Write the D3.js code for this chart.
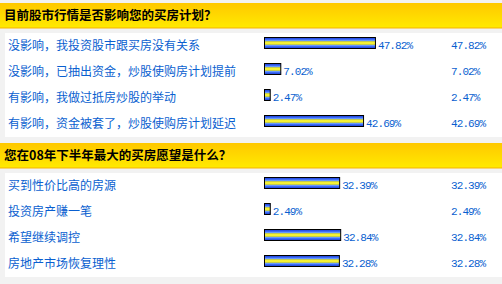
<!DOCTYPE html>
<html>
<head>
<meta charset="utf-8">
<script src="https://cdn.jsdelivr.net/npm/d3@7"></script>
<style>
  body { margin: 0; background: #f2f2f2; }
  svg { display: block; }
</style>
</head>
<body>
<div id="chart"></div>
<script>
// survey data
var titles = ["目前股市行情是否影响您的买房计划？", "您在08年下半年最大的买房愿望是什么？"];
var q1Labels = ["没影响，我投资股市跟买房没有关系", "没影响，已抽出资金，炒股使购房计划提前", "有影响，我做过抵房炒股的举动", "有影响，资金被套了，炒股使购房计划延迟"];
var q1Values = [47.82, 7.02, 2.47, 42.69];
var q2Labels = ["买到性价比高的房源", "投资房产赚一笔", "希望继续调控", "房地产市场恢复理性"];
var q2Values = [32.39, 2.49, 32.84, 32.28];

var width = 502, height = 284;

var svg = d3.select("#chart").append("svg")
  .attr("width", width)
  .attr("height", height);

var defs = svg.append("defs");

// header gradient
var hg = defs.append("linearGradient").attr("id", "hdr")
  .attr("x1", 0).attr("y1", 0).attr("x2", 0).attr("y2", 1);
hg.append("stop").attr("offset", "0%").attr("stop-color", "#ffc800");
hg.append("stop").attr("offset", "100%").attr("stop-color", "#ffea00");

// striped bar gradient
var bg = defs.append("linearGradient").attr("id", "bar")
  .attr("x1", 0).attr("y1", 0).attr("x2", 0).attr("y2", 1);
[["0%", "#1f3fd8"], ["15%", "#2f5cf0"], ["28%", "#6a9cff"], ["40%", "#e8e000"],
 ["50%", "#ffff60"], ["60%", "#e8e000"], ["72%", "#6a9cff"], ["85%", "#2f5cf0"], ["100%", "#1f3fd8"]]
  .forEach(function(s){
    bg.append("stop").attr("offset", s[0]).attr("stop-color", s[1]);
  });

var xScale = d3.scaleLinear().domain([0, 100]).range([0, 232]);

function drawSection(top, title, labels, values) {
  var g = svg.append("g").attr("transform", "translate(0," + top + ")");

  // header band
  g.append("rect")
    .attr("x", 0).attr("y", 0)
    .attr("width", width).attr("height", 25)
    .attr("fill", "url(#hdr)");
  g.append("rect")
    .attr("x", 0).attr("y", 24.5)
    .attr("width", width).attr("height", 1)
    .attr("fill", "#f5b400");
  g.append("text")
    .attr("x", 4).attr("y", 17)
    .attr("font-family", "'Noto Sans CJK SC', sans-serif")
    .attr("font-size", "12.5px")
    .attr("font-weight", "bold")
    .attr("fill", "#000")
    .text(title);

  // white panel
  g.append("rect")
    .attr("x", 5).attr("y", 30)
    .attr("width", width - 5).attr("height", 104)
    .attr("fill", "#fff");

  var yScale = d3.scalePoint()
    .domain(labels)
    .range([34, 112]);

  var rows = g.selectAll("g.row")
    .data(labels.map(function(l, i){ return {label: l, value: values[i]}; }))
    .enter()
    .append("g")
    .attr("class", "row")
    .attr("transform", function(d){ return "translate(0," + yScale(d.label) + ")"; });

  rows.append("text")
    .attr("x", 8).attr("y", 13)
    .attr("font-family", "'Noto Sans CJK SC', sans-serif")
    .attr("font-size", "12px")
    .attr("fill", "#0a5fd0")
    .text(function(d){ return d.label; });

  rows.append("rect")
    .attr("x", 264.5).attr("y", 0.5)
    .attr("width", function(d){ return xScale(d.value); })
    .attr("height", 11)
    .attr("fill", "url(#bar)")
    .attr("stroke", "#000")
    .attr("stroke-width", 1);

  rows.append("text")
    .attr("x", function(d){ return 264 + xScale(d.value) + 3; })
    .attr("y", 12)
    .attr("font-family", "'Liberation Mono', monospace")
    .attr("font-size", "11px")
    .attr("letter-spacing", "-0.9px")
    .attr("fill", "#0a5fd0")
    .text(function(d){ return d.value.toFixed(2) + "%"; });

  rows.append("text")
    .attr("x", 451)
    .attr("y", 12)
    .attr("font-family", "'Liberation Mono', monospace")
    .attr("font-size", "11px")
    .attr("letter-spacing", "-0.9px")
    .attr("fill", "#0a5fd0")
    .text(function(d){ return d.value.toFixed(2) + "%"; });
}

drawSection(3, titles[0], q1Labels, q1Values);
drawSection(143, titles[1], q2Labels, q2Values);
</script>
</body>
</html>
